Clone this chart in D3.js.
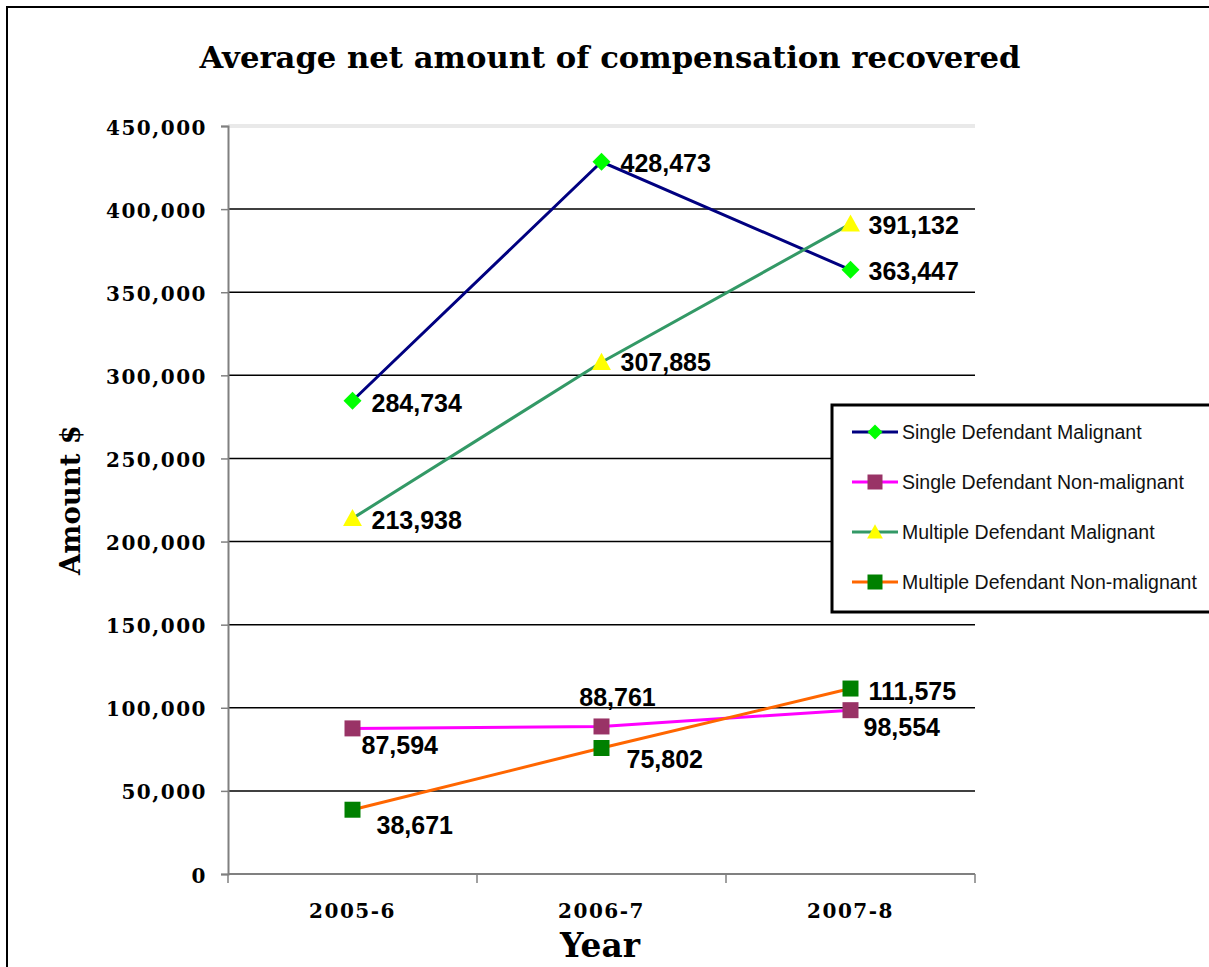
<!DOCTYPE html>
<html><head><meta charset="utf-8">
<script src="https://cdn.jsdelivr.net/npm/d3@7"></script>
<style>body{margin:0;background:#fff}svg{display:block}</style>
</head><body>
<svg id="c" width="1209" height="967"></svg>
<script>
const categories = ["2005-6", "2006-7", "2007-8"];
const seriesNames = ["Single Defendant Malignant", "Single Defendant Non-malignant", "Multiple Defendant Malignant", "Multiple Defendant Non-malignant"];
const singleMalignant = [284734, 428473, 363447];
const singleNonMalignant = [87594, 88761, 98554];
const multipleMalignant = [213938, 307885, 391132];
const multipleNonMalignant = [38671, 75802, 111575];
const yTicks = [0, 50000, 100000, 150000, 200000, 250000, 300000, 350000, 400000, 450000];
const title = "Average net amount of compensation recovered";

const svg = d3.select("#c");
const serif = "'DejaVu Serif', 'Liberation Serif', serif";
const sans = "'Liberation Sans', Arial, sans-serif";

// outer frame
svg.append("rect").attr("x", 7).attr("y", 7).attr("width", 1230).attr("height", 990)
  .attr("fill", "none").attr("stroke", "#000").attr("stroke-width", 2);

const L = 228, R = 975, T = 126, B = 874;
const x = d3.scaleBand().domain(categories).range([L, R]);
const y = d3.scaleLinear().domain([0, 450000]).range([B, T]);

function fit(sel, w) { const l = sel.node().getComputedTextLength(); const fs = +sel.attr("font-size"); sel.attr("font-size", fs * w / l); }

// title
const tt = svg.append("text").attr("x", 610).attr("y", 68).attr("text-anchor", "middle")
  .attr("font-family", serif).attr("font-weight", "bold").attr("font-size", 30).text(title);
fit(tt, 821);

// gridlines
svg.append("g").selectAll("line").data(yTicks.filter(d => d > 0 && d < 450000)).join("line")
  .attr("x1", L).attr("x2", R).attr("y1", d => y(d)).attr("y2", d => y(d))
  .attr("stroke", "#000").attr("stroke-width", 1.5);
// top border double grey
[T - 1, T + 1].forEach(yy => svg.append("line").attr("x1", L).attr("x2", R).attr("y1", yy).attr("y2", yy)
  .attr("stroke", "#c8c8c8").attr("stroke-width", 0.8));

// y axis
const ya = svg.append("g").attr("transform", `translate(${L},0)`)
  .call(d3.axisLeft(y).tickValues(yTicks).tickSize(7).tickPadding(14).tickFormat(d3.format(",")));
ya.select(".domain").attr("stroke", "#808080").attr("stroke-width", 2);
ya.selectAll(".tick line").attr("stroke", "#808080").attr("stroke-width", 1.5);
ya.selectAll("text").attr("font-family", serif).attr("font-weight", "bold").attr("font-size", 20)
  .attr("letter-spacing", 1.5).attr("fill", "#000").attr("dy", "0.4em");

// x axis
const xa = svg.append("g").attr("transform", `translate(0,${B})`)
  .call(d3.axisBottom(x).tickSize(0).tickPadding(30));
xa.select(".domain").attr("stroke", "#808080").attr("stroke-width", 2).attr("d", `M${L},0H${R}`);
xa.selectAll("text").attr("font-family", serif).attr("font-weight", "bold").attr("font-size", 20)
  .attr("letter-spacing", 1.5).attr("fill", "#000");
const bounds = [L].concat(categories.map(c => x(c) + x.bandwidth()));
svg.append("g").selectAll("line").data(bounds).join("line")
  .attr("x1", d => d).attr("x2", d => d).attr("y1", B).attr("y2", B + 9)
  .attr("stroke", "#808080").attr("stroke-width", 1.5);

// axis titles
const yr = svg.append("text").attr("x", 600).attr("y", 957).attr("text-anchor", "middle")
  .attr("font-family", serif).attr("font-weight", "bold").attr("font-size", 30).text("Year");
fit(yr, 80);
const am = svg.append("text").attr("transform", "translate(80,500) rotate(-90)").attr("text-anchor", "middle")
  .attr("font-family", serif).attr("font-weight", "bold").attr("font-size", 26).text("Amount $");
fit(am, 150);

const cx = c => x(c) + x.bandwidth() / 2;
const series = [
  { name: seriesNames[0], values: singleMalignant, line: "#000080", fill: "#00ff00", shape: "diamond",
    labels: [[19, 2, "start"], [19, 1, "start"], [18, 1, "start"]] },
  { name: seriesNames[1], values: singleNonMalignant, line: "#ff00ff", fill: "#993366", shape: "square",
    labels: [[9, 17, "start"], [16, -29, "middle"], [13, 17, "start"]] },
  { name: seriesNames[2], values: multipleMalignant, line: "#339966", fill: "#ffff00", shape: "triangle",
    labels: [[19, 2, "start"], [19, 0, "start"], [18, 1, "start"]] },
  { name: seriesNames[3], values: multipleNonMalignant, line: "#ff6600", fill: "#008000", shape: "square",
    labels: [[24, 15, "start"], [25, 11, "start"], [18, 2, "start"]] }
];
function markerPath(shape, s) {
  if (shape === "diamond") return `M0,${-s}L${s},0L0,${s}L${-s},0Z`;
  if (shape === "square") return `M${-s},${-s}H${s}V${s}H${-s}Z`;
  return `M0,${-s * 1.05}L${s * 1.05},${s * 0.85}H${-s * 1.05}Z`;
}
const msize = { diamond: 9, square: 8, triangle: 9 };
const line = d3.line().x((d, i) => cx(categories[i])).y(d => y(d));

series.forEach(s => {
  svg.append("path").datum(s.values).attr("d", line).attr("fill", "none")
    .attr("stroke", s.line).attr("stroke-width", 3);
});
series.forEach(s => {
  svg.append("g").selectAll("path").data(s.values).join("path")
    .attr("transform", (d, i) => `translate(${cx(categories[i])},${y(d)})`)
    .attr("d", markerPath(s.shape, msize[s.shape])).attr("fill", s.fill);
});
series.forEach(s => {
  svg.append("g").selectAll("text").data(s.values).join("text")
    .attr("x", (d, i) => cx(categories[i]) + s.labels[i][0])
    .attr("y", (d, i) => y(d) + s.labels[i][1])
    .attr("dy", "0.36em").attr("text-anchor", (d, i) => s.labels[i][2])
    .attr("font-family", sans).attr("font-weight", "bold").attr("font-size", 25)
    .text(d => d3.format(",")(d));
});

// legend
const lg = svg.append("g").attr("transform", "translate(832,405)");
lg.append("rect").attr("x", 0).attr("y", 0).attr("width", 400).attr("height", 207)
  .attr("fill", "#fff").attr("stroke", "#000").attr("stroke-width", 3);
series.forEach((s, i) => {
  const yy = 27 + i * 50;
  lg.append("line").attr("x1", 20).attr("x2", 66).attr("y1", yy).attr("y2", yy).attr("stroke", s.line).attr("stroke-width", 3);
  lg.append("path").attr("transform", `translate(43,${yy})`)
    .attr("d", markerPath(s.shape, 7.5)).attr("fill", s.fill);
  lg.append("text").attr("x", 70).attr("y", yy).attr("dy", "0.36em")
    .attr("font-family", sans).attr("font-size", 19.5).attr("fill", "#111").text(s.name);
});
</script>
</body></html>
